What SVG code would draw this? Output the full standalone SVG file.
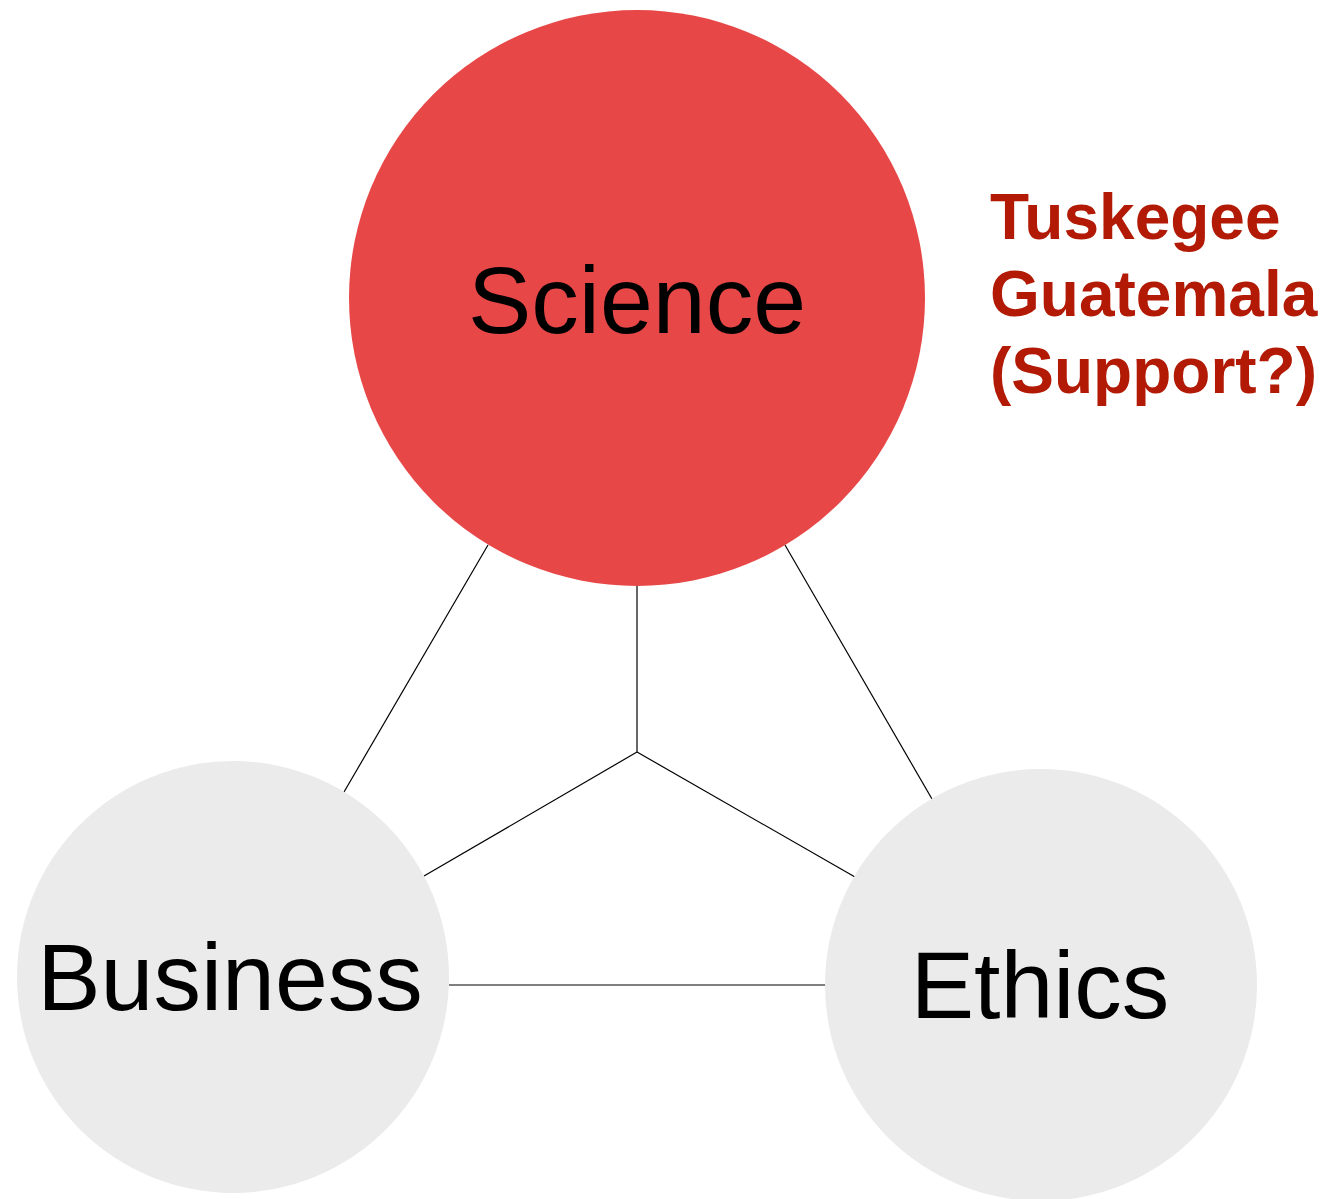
<svg xmlns="http://www.w3.org/2000/svg" width="1328" height="1199" viewBox="0 0 1328 1199">
<style>
.lbl{font-family:"Liberation Sans",Arial,Helvetica,sans-serif;font-size:95px;fill:#000;text-anchor:middle}
.note{font-family:"Liberation Sans",Arial,Helvetica,sans-serif;font-size:64px;font-weight:bold;fill:#B31A05}
.edge{stroke:#000;stroke-width:1.2;fill:none}
</style>
<rect width="1328" height="1199" fill="#fff"/>
<g id="connectors">
<line class="edge" x1="488" y1="545" x2="344" y2="792"/>
<line class="edge" x1="785" y1="545" x2="932" y2="799"/>
<line class="edge" x1="637" y1="586" x2="637" y2="752"/>
<line class="edge" x1="637" y1="752" x2="424" y2="876"/>
<line class="edge" x1="637" y1="752" x2="855" y2="877"/>
<line class="edge" x1="449" y1="985" x2="825" y2="985"/>
</g>
<g id="science">
<circle cx="637" cy="298" r="288" fill="#E84747"/>
<text class="lbl" x="637" y="333">Science</text>
</g>
<g id="business">
<circle cx="233" cy="977" r="216" fill="#EBEBEB"/>
<text class="lbl" x="230" y="1010">Business</text>
</g>
<g id="ethics">
<circle cx="1041" cy="985" r="216" fill="#EBEBEB"/>
<text class="lbl" x="1040" y="1018">Ethics</text>
</g>
<g id="note">
<text class="note" x="990" y="239">Tuskegee</text>
<text class="note" x="990" y="316">Guatemala</text>
<text class="note" x="990" y="393">(Support?)</text>
</g>
</svg>
